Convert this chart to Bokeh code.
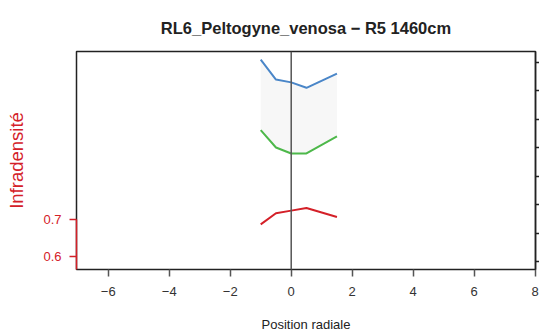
from bokeh.plotting import figure
from bokeh.models import Range1d, LinearAxis, FixedTicker, Span, ColumnDataSource, Title
from bokeh.embed import file_html
from bokeh.resources import INLINE

# data
positions = [-1.0, -0.5, 0.0, 0.5, 1.5]
infradensite = [0.687, 0.717, 0.724, 0.731, 0.707]
upper_series = [1.110, 1.040, 1.030, 1.011, 1.061]
lower_series = [0.862, 0.801, 0.780, 0.780, 0.840]

x_ticks = [-6, -4, -2, 0, 2, 4, 6, 8]
left_ticks = [0.6, 0.7]
right_ticks = [0.4, 0.5, 0.6, 0.7, 0.8, 0.9, 1.0, 1.1]
title_text = "RL6_Peltogyne_venosa \u2212 R5 1460cm"

x_lo, x_hi = -7.04, 8.01
yl_lo, yl_hi = 0.566, 1.151
yr_lo, yr_hi = 0.372, 1.1386

RED = "#D42028"
BLUE = "#4A86C8"
GREEN = "#4DB84A"
FONT = "Liberation Sans"

p = figure(width=539, height=336, output_backend="svg", toolbar_location=None,
           x_range=Range1d(x_lo, x_hi), y_range=Range1d(yl_lo, yl_hi),
           x_axis_location=None, y_axis_location=None,
           min_border_left=76, min_border_right=4, min_border_top=51, min_border_bottom=67)
p.extra_y_ranges = {"right": Range1d(yr_lo, yr_hi)}
p.grid.visible = False
p.outline_line_color = "#222222"
p.outline_line_width = 1.5
p.background_fill_color = "white"
p.border_fill_color = "white"

t = Title(text=title_text, align="center",
          text_font=FONT, text_font_size="16.5px", text_font_style="bold",
          text_color="#222222", standoff=30)
p.add_layout(t, "above")

# bottom axis
xa = LinearAxis(ticker=FixedTicker(ticks=x_ticks), axis_label="Position radiale")
xa.axis_line_color = None
xa.major_tick_line_color = "#555555"
xa.major_tick_line_width = 1.5
xa.major_tick_out = 7
xa.major_tick_in = 0
xa.minor_tick_line_color = None
xa.major_label_standoff = 10
xa.major_label_text_font = FONT
xa.major_label_text_font_size = "13px"
xa.major_label_text_color = "#333333"
xa.axis_label_text_font = FONT
xa.axis_label_text_font_size = "13px"
xa.axis_label_text_font_style = "normal"
xa.axis_label_text_color = "#222222"
xa.axis_label_standoff = 18
p.add_layout(xa, "below")

# left axis (red)
ya = LinearAxis(ticker=FixedTicker(ticks=left_ticks), axis_label="Infradensit\u00e9",
                bounds=(yl_lo, max(left_ticks)))
ya.axis_line_color = RED
ya.axis_line_width = 1.5
ya.major_tick_line_color = RED
ya.major_tick_line_width = 1.5
ya.major_tick_out = 7
ya.major_tick_in = 0
ya.minor_tick_line_color = None
ya.major_label_standoff = 8
ya.major_label_text_font = FONT
ya.major_label_text_font_size = "13px"
ya.major_label_text_color = RED
ya.axis_label_text_font = FONT
ya.axis_label_text_font_size = "18.5px"
ya.axis_label_text_font_style = "normal"
ya.axis_label_text_color = RED
ya.axis_label_standoff = 13
p.add_layout(ya, "left")

# right axis (ticks only, labels fall outside the page)
ra = LinearAxis(y_range_name="right", ticker=FixedTicker(ticks=right_ticks))
ra.axis_line_color = "#222222"
ra.axis_line_width = 1.5
ra.major_tick_line_color = "#222222"
ra.major_tick_line_width = 1.5
ra.major_tick_out = 4
ra.major_tick_in = 0
ra.minor_tick_line_color = None
ra.major_label_overrides = {v: "" for v in right_ticks}
ra.major_label_standoff = 0
p.add_layout(ra, "right")

src = ColumnDataSource(dict(x=positions, red=infradensite, up=upper_series, lo=lower_series))

p.varea(x="x", y1="lo", y2="up", source=src, y_range_name="right",
        fill_color="#F7F7F7", fill_alpha=1.0)
p.add_layout(Span(location=0, dimension="height", line_color="#555555", line_width=1.5))
p.line(x="x", y="up", source=src, y_range_name="right", line_color=BLUE, line_width=2)
p.line(x="x", y="lo", source=src, y_range_name="right", line_color=GREEN, line_width=2)
p.line(x="x", y="red", source=src, line_color=RED, line_width=2)

open("out.html", "w").write(file_html(p, INLINE))
